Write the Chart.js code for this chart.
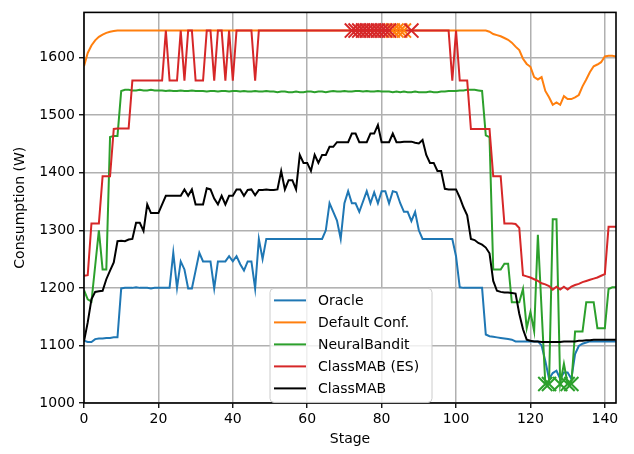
<!DOCTYPE html>
<html>
<head>
<meta charset="utf-8">
<script src="https://cdn.jsdelivr.net/npm/chart.js@4.4.1/dist/chart.umd.min.js"></script>
<style>
  html, body { margin: 0; padding: 0; background: #ffffff; }
  canvas { display: block; }
</style>
</head>
<body>
<canvas id="chart" width="634" height="454"></canvas>
<script>
// Stage index 0..143 on the x axis
const stages = Array.from({ length: 144 }, (_, i) => i);
const xTicks = [0, 20, 40, 60, 80, 100, 120, 140];
const yTicks = [1000, 1100, 1200, 1300, 1400, 1500, 1600];

const seriesNames = ['Oracle', 'Default Conf.', 'NeuralBandit', 'ClassMAB (ES)', 'ClassMAB'];

const oracle = [
  1108, 1106, 1106, 1111, 1112, 1112, 1113, 1113, 1114, 1114,
  1199, 1200, 1200, 1200, 1201, 1200, 1200, 1200, 1199, 1200,
  1200, 1200, 1200, 1200, 1261, 1200, 1246, 1232, 1199, 1199,
  1230, 1261, 1246, 1246, 1246, 1199, 1246, 1246, 1246, 1255,
  1246, 1255, 1241, 1230, 1246, 1246, 1199, 1285, 1250, 1285,
  1285, 1285, 1285, 1285, 1285, 1285, 1285, 1285, 1285, 1285,
  1285, 1285, 1285, 1285, 1285, 1300, 1347, 1332, 1317, 1285,
  1347, 1368, 1347, 1347, 1332, 1350, 1368, 1347, 1366, 1347,
  1368, 1368, 1347, 1368, 1366, 1347, 1332, 1332, 1316, 1332,
  1300, 1285, 1285, 1285, 1285, 1285, 1285, 1285, 1285, 1285,
  1255, 1201, 1200, 1200, 1200, 1200, 1200, 1200, 1119, 1116,
  1115, 1114, 1113, 1112, 1111, 1110, 1107, 1107, 1107, 1107,
  1107, 1107, 1107, 1100, 1073, 1042, 1052, 1056, 1042, 1053,
  1053, 1042, 1085, 1099, 1103, 1105, 1107, 1107, 1107, 1107,
  1107, 1107, 1107, 1107
];

const defaultConf = [
  1585, 1608, 1621, 1630, 1636, 1640, 1643, 1645, 1646, 1647,
  1647, 1647, 1647, 1647, 1647, 1647, 1647, 1647, 1647, 1647,
  1647, 1647, 1647, 1647, 1647, 1647, 1647, 1647, 1647, 1647,
  1647, 1647, 1647, 1647, 1647, 1647, 1647, 1647, 1647, 1647,
  1647, 1647, 1647, 1647, 1647, 1647, 1647, 1647, 1647, 1647,
  1647, 1647, 1647, 1647, 1647, 1647, 1647, 1647, 1647, 1647,
  1647, 1647, 1647, 1647, 1647, 1647, 1647, 1647, 1647, 1647,
  1647, 1647, 1647, 1647, 1647, 1647, 1647, 1647, 1647, 1647,
  1647, 1647, 1647, 1647, 1647, 1647, 1647, 1647, 1647, 1647,
  1647, 1647, 1647, 1647, 1647, 1647, 1647, 1647, 1647, 1647,
  1647, 1647, 1647, 1647, 1647, 1647, 1647, 1647, 1647, 1645,
  1641, 1639, 1637, 1634, 1631, 1626, 1619, 1613, 1598, 1589,
  1584, 1566, 1562, 1566, 1542, 1531, 1518, 1522, 1518, 1533,
  1528, 1528, 1531, 1535, 1550, 1562, 1575, 1585, 1588, 1592,
  1602, 1603, 1603, 1602
];

const neuralBandit = [
  1196, 1180, 1176, 1238, 1300, 1232, 1232, 1462, 1464, 1464,
  1542, 1544, 1544, 1543, 1543, 1544, 1543, 1543, 1544, 1543,
  1543, 1543, 1542, 1543, 1542, 1542, 1543, 1542, 1542, 1543,
  1542, 1542, 1542, 1541, 1542, 1542, 1541, 1542, 1542, 1541,
  1542, 1542, 1541, 1542, 1541, 1541, 1542, 1541, 1541, 1542,
  1541, 1541, 1540, 1541, 1541, 1540, 1540, 1541, 1540, 1540,
  1541, 1541, 1540, 1541, 1541, 1540, 1541, 1542, 1541, 1541,
  1542, 1541, 1541, 1542, 1542, 1541, 1542, 1541, 1541, 1542,
  1541, 1541, 1541, 1540, 1541, 1540, 1541, 1540, 1540, 1541,
  1540, 1540, 1540, 1541, 1540, 1540, 1541, 1541, 1542, 1542,
  1542, 1543, 1543, 1544, 1544, 1544, 1543, 1542, 1465, 1462,
  1232, 1232, 1232, 1242, 1242, 1175, 1175, 1175, 1198, 1130,
  1158, 1125, 1292, 1162, 1033, 1033, 1319, 1319, 1033, 1068,
  1033, 1033, 1124, 1124, 1124, 1175, 1175, 1175, 1130, 1130,
  1130, 1198, 1201, 1201
];

const classMabES = [
  1221, 1222, 1312, 1312, 1312, 1394, 1394, 1394, 1476, 1477,
  1477, 1477, 1477, 1560, 1560, 1560, 1560, 1560, 1560, 1560,
  1560, 1560, 1647, 1560, 1560, 1560, 1647, 1560, 1647, 1647,
  1560, 1560, 1560, 1647, 1647, 1560, 1647, 1647, 1560, 1647,
  1560, 1647, 1647, 1647, 1647, 1647, 1560, 1647, 1647, 1647,
  1647, 1647, 1647, 1647, 1647, 1647, 1647, 1647, 1647, 1647,
  1647, 1647, 1647, 1647, 1647, 1647, 1647, 1647, 1647, 1647,
  1647, 1647, 1647, 1647, 1647, 1647, 1647, 1647, 1647, 1647,
  1647, 1647, 1647, 1647, 1647, 1647, 1647, 1647, 1647, 1647,
  1647, 1647, 1647, 1647, 1647, 1647, 1647, 1647, 1647, 1560,
  1647, 1560, 1560, 1560, 1476, 1476, 1476, 1476, 1476, 1476,
  1394, 1394, 1394, 1312, 1312, 1312, 1311, 1304, 1222, 1220,
  1218, 1215, 1212, 1208, 1206, 1203, 1197, 1202, 1197, 1202,
  1197, 1202, 1205, 1207, 1210, 1212, 1214, 1216, 1218, 1221,
  1224, 1306, 1306, 1306
];

const classMab = [
  1107, 1140, 1180, 1193, 1194, 1195, 1215, 1230, 1244, 1281,
  1282, 1281, 1284, 1285, 1313, 1313, 1299, 1345, 1330, 1330,
  1330, 1345, 1360, 1360, 1360, 1360, 1360, 1371, 1360, 1371,
  1345, 1345, 1345, 1373, 1371, 1355, 1345, 1360, 1345, 1360,
  1360, 1371, 1371, 1360, 1370, 1371, 1361, 1370, 1370, 1371,
  1370, 1370, 1371, 1403, 1371, 1387, 1387, 1371, 1431, 1417,
  1417, 1403, 1431, 1417, 1431, 1431, 1445, 1445, 1453, 1453,
  1453, 1453, 1468, 1468, 1453, 1453, 1453, 1468, 1468, 1483,
  1453, 1453, 1453, 1468, 1453, 1453, 1454, 1454, 1454, 1452,
  1451, 1457, 1431, 1417, 1417, 1403, 1403, 1372, 1371, 1371,
  1371, 1357, 1340, 1326, 1285, 1283, 1278, 1275, 1270, 1260,
  1212, 1195, 1193, 1192, 1192, 1191, 1190, 1155, 1128, 1110,
  1108, 1107, 1107, 1106, 1106, 1106, 1106, 1106, 1106, 1107,
  1107, 1107, 1107, 1108, 1108, 1109, 1109, 1110, 1110, 1110,
  1110, 1110, 1110, 1110
];

// Stages flagged with an x marker on each run
const defaultFlagged = [83, 84, 85, 86];
const esFlagged = [72, 73, 74, 75, 76, 77, 78, 79, 80, 81, 82, 88];
const neuralFlagged = [124, 125, 128, 130, 131];

const colors = ['#1f77b4', '#ff7f0e', '#2ca02c', '#d62728', '#000000'];
const allSeries = [oracle, defaultConf, neuralBandit, classMabES, classMab];

const toPoints = (vals) => stages.map((s, i) => ({ x: s, y: vals[i] }));
const flaggedPoints = (idx, vals) => idx.map(s => ({ x: s, y: vals[s] }));

const lineSets = allSeries.map((vals, k) => ({
  label: seriesNames[k],
  data: toPoints(vals),
  borderColor: colors[k],
  backgroundColor: colors[k],
  borderWidth: 2,
  pointRadius: 0,
  tension: 0,
  fill: false,
  order: 10 - k
}));

function markerSet(idx, vals, color, order) {
  return {
    label: '',
    data: flaggedPoints(idx, vals),
    showLine: false,
    pointStyle: 'crossRot',
    pointRadius: 10,
    pointBorderWidth: 2,
    borderColor: color,
    backgroundColor: color,
    isMarker: true,
    order: order
  };
}

const markerSets = [
  markerSet(defaultFlagged, defaultConf, colors[1], 3),
  markerSet(neuralFlagged, neuralBandit, colors[2], 2),
  markerSet(esFlagged, classMabES, colors[3], 1)
];

const FONT = "'DejaVu Sans', 'Liberation Sans', sans-serif";
Chart.defaults.font.family = FONT;
Chart.defaults.font.size = 14;
Chart.defaults.color = '#000000';

// Full frame around the plot area
const framePlugin = {
  id: 'frame',
  afterDatasetsDraw(chart) {
    const { ctx, chartArea: a } = chart;
    ctx.save();
    ctx.strokeStyle = '#000000';
    ctx.lineWidth = 1.6;
    ctx.strokeRect(a.left, a.top, a.right - a.left, a.bottom - a.top);
    ctx.restore();
  }
};

// Boxed legend inside the plot area
const boxLegendPlugin = {
  id: 'boxLegend',
  afterDraw(chart) {
    const { ctx, chartArea: a } = chart;
    const x0 = a.left + 186, y0 = a.top + 276, w = 162, h = 114, r = 4;
    ctx.save();
    ctx.beginPath();
    ctx.moveTo(x0 + r, y0);
    ctx.arcTo(x0 + w, y0, x0 + w, y0 + h, r);
    ctx.arcTo(x0 + w, y0 + h, x0, y0 + h, r);
    ctx.arcTo(x0, y0 + h, x0, y0, r);
    ctx.arcTo(x0, y0, x0 + w, y0, r);
    ctx.closePath();
    ctx.fillStyle = 'rgba(255,255,255,0.8)';
    ctx.fill();
    ctx.strokeStyle = '#cccccc';
    ctx.lineWidth = 1;
    ctx.stroke();
    ctx.font = '14px ' + FONT;
    ctx.textBaseline = 'middle';
    ctx.textAlign = 'left';
    chart.data.datasets.filter(d => !d.isMarker).forEach((d, i) => {
      const y = y0 + 12 + i * 22;
      ctx.strokeStyle = d.borderColor;
      ctx.lineWidth = 2;
      ctx.beginPath();
      ctx.moveTo(x0 + 4, y);
      ctx.lineTo(x0 + 36, y);
      ctx.stroke();
      ctx.fillStyle = '#000000';
      ctx.fillText(d.label, x0 + 48, y + 1);
    });
    ctx.restore();
  }
};

const gridStyle = { color: '#b0b0b0', lineWidth: 1.5, tickColor: '#000000', tickLength: 5, tickWidth: 1.3 };

new Chart(document.getElementById('chart'), {
  type: 'line',
  data: { datasets: [...lineSets, ...markerSets] },
  options: {
    responsive: false,
    animation: false,
    devicePixelRatio: 1,
    layout: { padding: { top: 6, right: 18, left: 0, bottom: 0 } },
    plugins: {
      legend: { display: false },
      tooltip: { enabled: false }
    },
    scales: {
      x: {
        type: 'linear',
        min: 0,
        max: 143,
        afterBuildTicks: (s) => { s.ticks = xTicks.map(v => ({ value: v })); },
        afterFit: (s) => { s.height = 51; },
        border: { display: false },
        grid: gridStyle,
        ticks: { padding: 3, maxRotation: 0, font: { size: 14 }, callback: (v) => String(v) },
        title: { display: true, text: 'Stage', font: { size: 14 }, padding: { top: 0, bottom: 6 } }
      },
      y: {
        type: 'linear',
        min: 1000,
        max: 1678.5,
        afterBuildTicks: (s) => { s.ticks = yTicks.map(v => ({ value: v })); },
        afterFit: (s) => { s.width = 84; },
        border: { display: false },
        grid: gridStyle,
        ticks: { padding: 4, font: { size: 14 }, callback: (v) => String(v) },
        title: { display: true, text: 'Consumption (W)', font: { size: 14 }, padding: { top: 12, bottom: 0 } }
      }
    }
  },
  plugins: [framePlugin, boxLegendPlugin]
});
</script>
</body>
</html>
